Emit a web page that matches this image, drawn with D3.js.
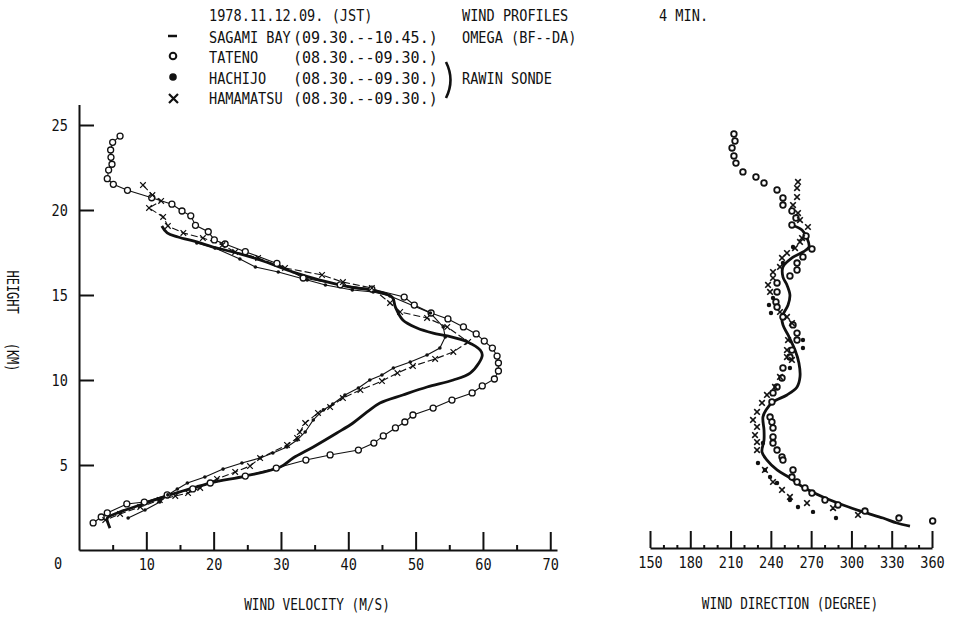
<!DOCTYPE html>
<html>
<head>
<meta charset="utf-8">
<script src="https://cdn.jsdelivr.net/npm/d3@7"></script>
<style>
  body { margin: 0; background: #fff; }
  svg { display: block; }
  text { font-family: "DejaVu Sans Mono", "Liberation Mono", monospace; font-size: 16px; fill: #111; }
</style>
</head>
<body>
<svg id="chart" width="960" height="617"></svg>
<script>
// wind velocity (m/s) vs height (km)
const sagamiVel = [[12.3,19.06],[13.1,18.65],[14.7,18.41],[17.5,18.12],[19.9,17.82],[22.9,17.53],[26.9,17.06],[31.8,16.35],[35.8,15.88],[40.3,15.47],[44.0,15.24],[46.5,14.88],[47.0,14.29],[48.1,13.53],[50.2,13.06],[52.6,12.76],[54.7,12.59],[57.7,12.24],[59.6,11.76],[59.9,11.47],[59.4,11.0],[58.1,10.41],[55.6,10.0],[51.7,9.59],[48.1,9.12],[44.7,8.65],[42.8,8.12],[40.7,7.47],[38.3,6.88],[34.8,6.06],[31.8,5.41],[29.9,4.88],[24.7,4.35],[19.5,3.94],[13.5,3.24],[9.1,2.65],[5.7,2.18],[4.2,1.88],[4.3,1.59],[4.6,1.29]];
const tatenoVel = [[6.1,24.35],[5.0,23.98],[4.7,23.53],[4.75,23.1],[4.9,22.69],[4.4,22.35],[4.2,21.84],[5.1,21.51],[7.2,21.16],[10.8,20.72],[13.8,20.34],[15.3,19.94],[16.6,19.66],[17.3,19.1],[19.2,18.72],[20.1,18.24],[21.7,18.0],[24.7,17.55],[29.4,16.86],[33.3,16.0],[38.8,15.6],[43.5,15.35],[48.3,14.88],[49.8,14.41],[52.3,13.94],[54.8,13.59],[57.1,13.12],[59.0,12.71],[60.2,12.29],[61.4,11.88],[62.1,11.41],[62.3,11.0],[62.3,10.53],[61.7,10.06],[59.9,9.65],[58.4,9.24],[55.4,8.82],[52.6,8.35],[49.6,7.94],[48.4,7.53],[47.0,7.18],[45.2,6.71],[43.8,6.29],[41.5,5.88],[37.3,5.59],[33.7,5.29],[29.3,4.82],[24.7,4.35],[19.5,3.94],[16.9,3.59],[13.1,3.24],[9.7,2.82],[7.1,2.71],[4.2,2.18],[3.3,1.94],[2.1,1.59]];
const hachijoVel = [[17.5,18.06],[20.2,17.76],[23.9,17.12],[26.2,16.65],[29.6,16.35],[33.9,15.88],[36.6,15.59],[40.6,15.29],[43.7,15.18],[46.2,14.94],[52.2,13.94],[54.1,13.12],[54.4,12.53],[53.6,11.88],[51.7,11.47],[49.2,11.06],[46.7,10.71],[45.0,10.29],[43.2,10.0],[41.5,9.53],[39.5,9.12],[37.7,8.59],[36.3,8.24],[34.8,7.65],[33.6,6.94],[32.4,6.47],[30.9,6.06],[28.8,5.71],[26.9,5.41],[24.2,5.12],[21.4,4.76],[18.7,4.29],[16.1,3.94],[14.6,3.59],[13.2,3.24],[12.0,2.82],[9.8,2.35],[7.3,1.88]];
const hamamatsuVel = [[9.5,21.47],[10.9,20.88],[12.2,20.53],[10.4,20.12],[12.5,19.59],[13.2,19.06],[15.5,18.65],[18.4,18.35],[21.3,17.94],[23.2,17.53],[26.6,17.18],[30.6,16.59],[36.1,16.18],[39.2,15.76],[43.5,15.41],[46.2,14.53],[47.7,14.0],[51.7,13.65],[54.7,13.12],[57.8,12.24],[55.6,11.65],[52.9,11.24],[49.6,10.82],[47.3,10.41],[45.0,9.94],[41.8,9.41],[39.2,8.94],[37.3,8.41],[35.5,8.06],[33.6,7.47],[32.8,6.94],[32.4,6.59],[30.9,6.18],[26.9,5.41],[25.4,4.94],[23.2,4.59],[20.5,4.18],[18.0,3.65],[16.2,3.35],[14.3,3.18],[12.0,2.94],[9.1,2.53],[6.1,2.12],[3.9,1.76]];

// wind direction (degree) vs height (km)
const sagamiDir = [[255.7,19.12],[263.2,18.82],[266.9,18.35],[268.4,17.82],[263.9,17.53],[255.7,17.18],[249.0,16.65],[249.0,16.06],[252.0,15.59],[254.2,15.0],[252.8,14.41],[248.3,13.71],[249.0,13.24],[252.8,12.65],[258.0,11.76],[260.9,11.0],[261.7,10.18],[259.5,9.59],[252.0,9.12],[241.6,8.71],[236.4,8.24],[234.1,7.82],[234.9,7.06],[234.9,6.47],[233.4,5.76],[237.1,5.29],[244.6,4.71],[254.2,4.24],[263.9,3.71],[278.8,3.12],[293.7,2.65],[308.6,2.24],[323.5,1.88],[333.9,1.59],[343.6,1.41]];
const tatenoDir = [[212.5,24.47],[213.3,24.06],[211.1,23.65],[212.5,23.18],[214.0,22.76],[219.2,22.24],[228.9,21.94],[234.9,21.59],[244.6,21.18],[249.0,20.71],[249.0,20.29],[255.7,19.94],[258.7,19.53],[255.7,19.12],[266.2,18.47],[270.6,17.71],[263.9,17.24],[259.5,16.88],[259.5,16.47],[254.2,16.12],[244.6,15.71],[244.6,15.18],[243.8,14.59],[244.6,14.29],[249.0,13.71],[256.5,13.24],[259.5,12.76],[259.5,12.35],[255.7,11.76],[254.2,11.35],[249.0,10.71],[248.3,10.12],[244.6,9.59],[241.6,9.24],[240.8,8.71],[239.4,7.82],[240.8,7.53],[241.6,7.18],[241.6,6.65],[241.6,6.29],[244.6,5.88],[248.3,5.47],[249.0,5.29],[256.5,4.71],[255.7,4.29],[259.5,4.0],[265.4,3.65],[270.6,3.35],[280.3,2.94],[290.0,2.65],[310.1,2.29],[335.4,1.88],[360.5,1.71]];
const hachijoDir = [[256.5,17.82],[249.0,16.88],[241.6,14.82],[238.6,14.41],[240.1,13.94],[263.9,12.35],[263.9,11.88],[254.2,10.71],[234.1,6.29],[230.4,5.12],[235.6,4.71],[239.4,4.29],[244.6,3.94],[254.2,2.94],[260.2,2.53],[271.4,2.24],[288.5,1.88]];
const hamamatsuDir = [[260.2,21.65],[259.5,21.29],[259.5,20.76],[256.5,20.29],[260.2,19.82],[261.7,19.41],[267.6,19.0],[263.2,18.35],[261.7,18.12],[258.0,17.76],[252.0,17.47],[248.3,17.18],[246.8,16.65],[241.6,16.35],[241.6,16.0],[237.9,15.59],[239.4,15.18],[246.8,14.0],[252.0,13.71],[255.7,13.35],[252.8,12.35],[252.0,11.76],[252.0,11.35],[255.7,11.18],[246.8,10.18],[243.1,9.59],[237.1,9.12],[233.4,8.65],[229.7,8.12],[226.7,7.65],[229.7,7.24],[228.2,6.76],[229.7,6.35],[229.7,5.88],[235.6,4.71],[241.6,4.0],[248.3,3.53],[254.2,3.12],[266.9,2.76],[286.3,2.47],[304.9,2.06]];

const velTicks = [10, 20, 30, 40, 50, 60, 70];
const velMinor = [5, 15, 25, 35, 45, 55, 65];
const heightTicks = [5, 10, 15, 20, 25];
const dirTicks = [150, 180, 210, 240, 270, 300, 330, 360];
const dirMinor = [160, 170, 190, 200, 220, 230, 250, 260, 280, 290, 310, 320, 340, 350];

const SX = 0.85; // narrow typewriter look
const ink = "#111";
const svg = d3.select("#chart");

const x = d3.scaleLinear().domain([0, 71]).range([79, 557]);
const y = d3.scaleLinear().domain([0, 26.2]).range([550, 104.6]);
const xd = d3.scaleLinear().domain([150, 360]).range([650, 932]);

function label(px, py, s, anchor, size, sx) {
  return svg.append("text")
    .attr("transform", `translate(${px},${py}) scale(${sx || SX},1)`)
    .attr("text-anchor", anchor || "start")
    .style("font-size", (size || 16) + "px")
    .style("white-space", "pre")
    .text(s);
}

function styleAxis(g) {
  g.attr("font-family", null).attr("font-size", null);
  g.select(".domain").attr("stroke", ink).attr("stroke-width", 2);
  g.selectAll(".tick line").attr("stroke", ink).attr("stroke-width", 2);
  g.selectAll(".tick text").attr("transform", `scale(${SX},1)`);
}

// ---- left panel axes
svg.append("g")
  .attr("transform", `translate(0,${y(0)})`)
  .call(d3.axisBottom(x).tickValues(velMinor).tickSize(-5).tickSizeOuter(0).tickFormat(""))
  .call(g => g.select(".domain").remove())
  .call(styleAxis);
svg.append("g")
  .attr("transform", `translate(0,${y(0)})`)
  .call(d3.axisBottom(x).tickValues(velTicks).tickSize(-18).tickSizeOuter(0).tickPadding(9))
  .call(styleAxis);
svg.append("g")
  .attr("transform", `translate(${x(0)},0)`)
  .call(d3.axisLeft(y).tickValues(heightTicks).tickSize(-15).tickSizeOuter(0).tickPadding(13))
  .call(styleAxis);
label(58, 569, "0", "middle");

// ---- right panel axis
svg.append("g")
  .attr("transform", `translate(0,${y(0) - 2})`)
  .call(d3.axisBottom(xd).tickValues(dirMinor).tickSize(-3).tickSizeOuter(0).tickFormat(""))
  .call(g => g.select(".domain").remove())
  .call(styleAxis);
svg.append("g")
  .attr("transform", `translate(0,${y(0) - 2})`)
  .call(d3.axisBottom(xd).tickValues(dirTicks).tickSize(-17).tickSizeOuter(0).tickPadding(9))
  .call(styleAxis);

// axis titles
label(317, 610, "WIND VELOCITY (M/S)", "middle", 15);
label(790, 609, "WIND DIRECTION (DEGREE)", "middle", 15);
svg.append("text")
  .attr("transform", "translate(7,321) rotate(90) scale(0.8,1)")
  .attr("text-anchor", "middle")
  .style("font-size", "15px")
  .style("white-space", "pre")
  .text("HEIGHT    (KM)");

// ---- velocity profiles
const lineV = d3.line().x(d => x(d[0])).y(d => y(d[1]));
const lineD = d3.line().x(d => xd(d[0])).y(d => y(d[1]));

const plot = svg.append("g").attr("fill", "none").attr("stroke", ink);

plot.append("path").datum(tatenoVel).attr("d", lineV).attr("stroke-width", 1.1);
plot.append("path").datum(hachijoVel).attr("d", lineV).attr("stroke-width", 1.1);
plot.append("path").datum(hamamatsuVel).attr("d", lineV).attr("stroke-width", 1.1).attr("stroke-dasharray", "7,3");
plot.append("path").datum(sagamiVel).attr("d", lineV.curve(d3.curveCatmullRom)).attr("stroke-width", 2.8);

function circles(g, data, sx, r, sw) {
  g.selectAll(null).data(data).join("circle")
    .attr("cx", d => sx(d[0])).attr("cy", d => y(d[1])).attr("r", r)
    .attr("fill", "#fff").attr("stroke", ink).attr("stroke-width", sw);
}
function dots(g, data, sx, r) {
  g.selectAll(null).data(data).join("circle")
    .attr("cx", d => sx(d[0])).attr("cy", d => y(d[1])).attr("r", r)
    .attr("fill", ink).attr("stroke", "none");
}
function crosses(g, data, sx, s, sw) {
  g.selectAll(null).data(data).join("path")
    .attr("d", d => {
      const cx = sx(d[0]), cy = y(d[1]);
      return `M${cx - s},${cy - s}L${cx + s},${cy + s}M${cx - s},${cy + s}L${cx + s},${cy - s}`;
    })
    .attr("fill", "none").attr("stroke", ink).attr("stroke-width", sw);
}

circles(svg.append("g"), tatenoVel, x, 3, 1.3);
dots(svg.append("g"), hachijoVel, x, 1.8);
crosses(svg.append("g"), hamamatsuVel, x, 2.8, 1.2);

// ---- direction profiles
plot.append("path").datum(sagamiDir).attr("d", lineD.curve(d3.curveCatmullRom)).attr("stroke-width", 2.8);
circles(svg.append("g"), tatenoDir, xd, 2.8, 1.8);
dots(svg.append("g"), hachijoDir, xd, 2.2);
crosses(svg.append("g"), hamamatsuDir, xd, 2.8, 1.6);

// ---- legend
label(209, 21, "1978.11.12.09. (JST)");
label(462, 21, "WIND PROFILES");
label(659, 21, "4 MIN.");
label(209, 43, "SAGAMI BAY");
label(293, 43, "(09.30.--10.45.)", "start", 16, 0.94);
label(462, 43, "OMEGA (BF--DA)");
label(209, 63, "TATENO");
label(293, 63, "(08.30.--09.30.)", "start", 16, 0.94);
label(209, 84, "HACHIJO");
label(293, 84, "(08.30.--09.30.)", "start", 16, 0.94);
label(462, 84, "RAWIN SONDE");
label(209, 104, "HAMAMATSU");
label(293, 104, "(08.30.--09.30.)", "start", 16, 0.94);

const leg = svg.append("g").attr("stroke", ink).attr("fill", "none");
leg.append("line").attr("x1", 168).attr("x2", 177).attr("y1", 36).attr("y2", 36).attr("stroke-width", 2.5);
leg.append("circle").attr("cx", 173).attr("cy", 56).attr("r", 3.3).attr("stroke-width", 2);
leg.append("circle").attr("cx", 173).attr("cy", 77).attr("r", 3.8).attr("fill", ink).attr("stroke", "none");
leg.append("path").attr("d", "M169,94L178,103M169,103L178,94").attr("stroke-width", 2.2);
leg.append("path").attr("d", "M446,62Q455,80 446,98").attr("stroke-width", 2.6);
</script>
</body>
</html>
